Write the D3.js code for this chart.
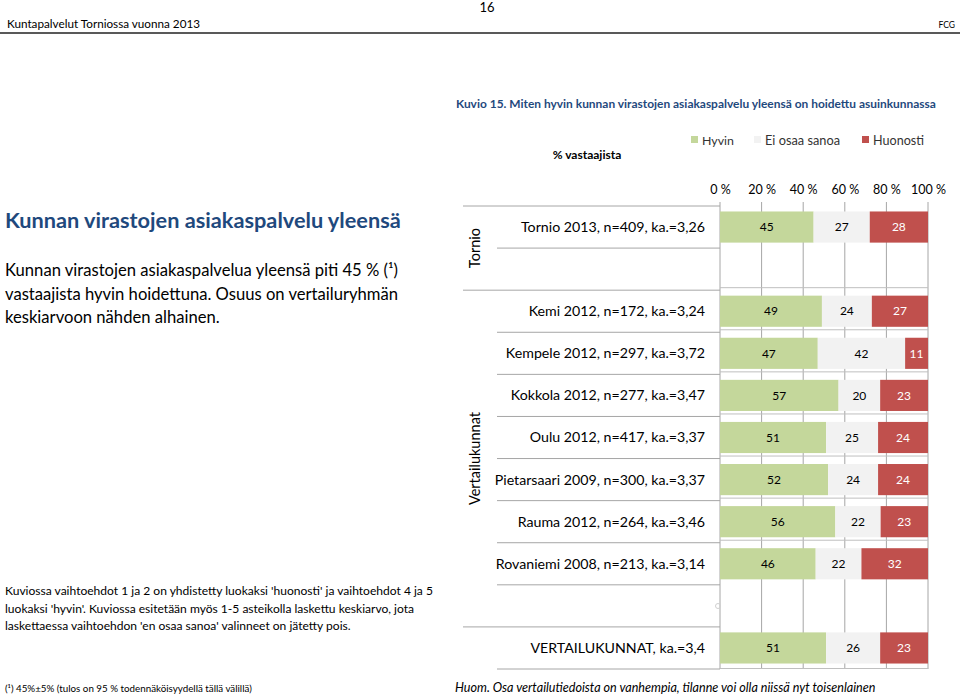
<!DOCTYPE html>
<html><head><meta charset="utf-8">
<script src="https://cdn.jsdelivr.net/npm/d3@7"></script>
<style>
html,body{margin:0;padding:0;background:#fff;}
svg{display:block;font-family:Lato,"Open Sans",sans-serif;}
</style></head>
<body>
<svg id="chart" width="960" height="696"></svg>
<script>
// ---- data ----
const categories = [
  "Tornio 2013, n=409, ka.=3,26",
  "",
  "Kemi 2012, n=172, ka.=3,24",
  "Kempele 2012, n=297, ka.=3,72",
  "Kokkola 2012, n=277, ka.=3,47",
  "Oulu 2012, n=417, ka.=3,37",
  "Pietarsaari 2009, n=300, ka.=3,37",
  "Rauma 2012, n=264, ka.=3,46",
  "Rovaniemi 2008, n=213, ka.=3,14",
  "",
  "VERTAILUKUNNAT, ka.=3,4"
];
const hyvin   = [45, null, 49, 47, 57, 51, 52, 56, 46, null, 51];
const eiOsaa  = [27, null, 24, 42, 20, 25, 24, 22, 22, null, 26];
const huonosti= [28, null, 27, 11, 23, 24, 24, 23, 32, null, 23];
const seriesNames = ["Hyvin", "Ei osaa sanoa", "Huonosti"];
const seriesColors = ["#c4d79b", "#f2f2f2", "#c0504d"];
const labelColors = ["#000", "#000", "#fff"];
const tickValues = [0, 0.2, 0.4, 0.6, 0.8, 1];
const groups = [
  {name: "Tornio", from: 0, to: 1},
  {name: "Vertailukunnat", from: 2, to: 9}
];

const svg = d3.select("#chart");
const rowIds = categories.map((c, i) => i);

// scale font-size so that the text's natural width matches a target width
function fit(sel, width) {
  const n = sel.node();
  const w = n.getComputedTextLength();
  const fs = parseFloat(sel.attr("font-size"));
  if (w > 0) sel.attr("font-size", (fs * width / w).toFixed(2));
  return sel;
}

// ---- scales ----
const x = d3.scaleLinear().domain([0, 1]).range([720, 928]);
const y = d3.scaleBand().domain(rowIds).range([206, 669]).paddingInner(0.26).paddingOuter(0.13);
const step = y.step();
const rowTop = i => y(i) - y.paddingInner() * step / 2;

// ---- header ----
fit(svg.append("text").attr("x", 7).attr("y", 28).attr("font-size", 13.2).attr("fill", "#000")
  .text("Kuntapalvelut Torniossa vuonna 2013"), 193);
svg.append("text").attr("x", 487).attr("y", 12).attr("text-anchor", "middle").attr("font-size", 13).text("16");
svg.append("text").attr("x", 955).attr("y", 28).attr("text-anchor", "end").attr("font-size", 8.5).text("FCG");
svg.append("line").attr("x1", 0).attr("x2", 960).attr("y1", 33).attr("y2", 33)
  .attr("stroke", "#222").attr("stroke-width", 1.4);

// ---- chart title ----
fit(svg.append("text").attr("x", 456).attr("y", 108).attr("font-size", 12.6).attr("font-weight", "bold")
  .attr("fill", "#1f497d")
  .text("Kuvio 15. Miten hyvin kunnan virastojen asiakaspalvelu yleensä on hoidettu asuinkunnassa"), 480);

svg.append("text").attr("x", 587).attr("y", 159).attr("text-anchor", "middle").attr("font-size", 12)
  .attr("font-weight", "bold").text("% vastaajista");

// ---- legend ----
const legendX = [691, 754, 862];
const legendW = [32, 75, 51];
seriesNames.forEach((n, i) => {
  const g = svg.append("g").attr("transform", `translate(${legendX[i]},140)`);
  g.append("rect").attr("x", 0).attr("y", -4).attr("width", 7).attr("height", 7).attr("fill", seriesColors[i]);
  fit(g.append("text").attr("x", 11).attr("y", 5).attr("font-size", 14).attr("fill", "#333").text(n), legendW[i]);
});

// ---- left text ----
fit(svg.append("text").attr("x", 5).attr("y", 228).attr("font-size", 20.5).attr("font-weight", "bold")
  .attr("fill", "#1f497d").text("Kunnan virastojen asiakaspalvelu yleensä"), 396);
const para = [
  ["Kunnan virastojen asiakaspalvelua yleensä piti 45 % (¹)", 391],
  ["vastaajista hyvin hoidettuna. Osuus on vertailuryhmän", 393],
  ["keskiarvoon nähden alhainen.", 215]
];
const paraW = [];
para.forEach((p, i) => {
  const t = svg.append("text").attr("x", 5).attr("y", 276 + i * 23.5).attr("font-size", 16.3).attr("fill", "#000")
    .text(p[0]);
  paraW.push([t, p[1]]);
});
// use a common font size for the paragraph
(function () {
  const ratios = paraW.map(([t, w]) => w / t.node().getComputedTextLength());
  const r = d3.mean(ratios);
  paraW.forEach(([t]) => t.attr("font-size", (16.3 * r).toFixed(2)));
})();

const note = [
  ["Kuviossa vaihtoehdot 1 ja 2 on yhdistetty luokaksi 'huonosti' ja vaihtoehdot 4 ja 5", 430],
  ["luokaksi 'hyvin'. Kuviossa esitetään myös 1-5 asteikolla laskettu keskiarvo, jota", 409],
  ["laskettaessa vaihtoehdon 'en osaa sanoa' valinneet on jätetty pois.", 345]
];
const noteT = note.map((p, i) => [svg.append("text").attr("x", 5).attr("y", 595 + i * 17.6)
  .attr("font-size", 12.3).attr("fill", "#000").text(p[0]), p[1]]);
(function () {
  const r = d3.mean(noteT.map(([t, w]) => w / t.node().getComputedTextLength()));
  noteT.forEach(([t]) => t.attr("font-size", (12.3 * r).toFixed(2)));
})();
fit(svg.append("text").attr("x", 5).attr("y", 692).attr("font-size", 10.5).attr("fill", "#000")
  .text("(¹) 45%±5% (tulos on 95 % todennäköisyydellä tällä välillä)"), 247);
fit(svg.append("text").attr("x", 455).attr("y", 692).attr("font-size", 12).attr("font-style", "italic")
  .attr("fill", "#000")
  .text("Huom. Osa vertailutiedoista on vanhempia, tilanne voi olla niissä nyt toisenlainen"), 421);

// ---- axis tick labels (top) ----
const axis = d3.axisTop(x).tickValues(tickValues).tickSize(0).tickPadding(0)
  .tickFormat(d => Math.round(d * 100) + " %");
const axG = svg.append("g").attr("transform", "translate(0,194)").call(axis);
axG.select(".domain").remove();
axG.selectAll("text").attr("font-family", "Lato, sans-serif").attr("font-size", 12.5).attr("fill", "#000");

// ---- gridlines ----
svg.append("g").selectAll("line").data(tickValues).join("line")
  .attr("x1", d => x(d)).attr("x2", d => x(d)).attr("y1", 202).attr("y2", 669)
  .attr("stroke", "#a6a6a6").attr("stroke-width", 1);

// horizontal separators in plot between data rows
const sepPlot = [];
for (let i = 2; i < 9; i++) sepPlot.push(i);
sepPlot.push(11);
svg.append("g").selectAll("line").data(sepPlot).join("line")
  .attr("x1", x(0)).attr("x2", x(1))
  .attr("y1", i => i === 11 ? 668.5 : rowTop(i) - 2.5).attr("y2", i => i === 11 ? 668.5 : rowTop(i) - 2.5)
  .attr("stroke", "#bfbfbf");

// ---- category axis separators (left) ----
const groupStarts = new Set(groups.map(g => g.from).concat([groups[groups.length - 1].to + 1]));
const bounds = d3.range(0, categories.length + 1);
svg.append("g").selectAll("line").data(bounds).join("line")
  .attr("x1", b => groupStarts.has(b) ? 463 : 497).attr("x2", x(0))
  .attr("y1", b => b === categories.length ? 669 : rowTop(b)).attr("y2", b => b === categories.length ? 669 : rowTop(b))
  .attr("stroke", "#a6a6a6");

// category labels
svg.append("g").selectAll("text").data(rowIds.filter(i => categories[i] !== "")).join("text")
  .attr("x", 705).attr("y", i => y(i) + y.bandwidth() / 2).attr("dy", "0.35em")
  .attr("text-anchor", "end").attr("font-size", 14.2).attr("fill", "#000")
  .text(i => categories[i]);

// group labels (rotated)
groups.forEach(g => {
  const cy = (rowTop(g.from) + rowTop(g.to + 1)) / 2;
  svg.append("text").attr("transform", `translate(480,${cy}) rotate(-90)`)
    .attr("text-anchor", "middle").attr("font-size", 14.5).attr("fill", "#000").text(g.name);
});

// ---- stacked bars ----
const rows = rowIds.filter(i => hyvin[i] !== null).map(i => ({
  id: i, "Hyvin": hyvin[i], "Ei osaa sanoa": eiOsaa[i], "Huonosti": huonosti[i]
}));
const stack = d3.stack().keys(seriesNames).offset(d3.stackOffsetExpand);
const stacked = stack(rows);
const barG = svg.append("g");
stacked.forEach((s, si) => {
  const g = barG.append("g");
  g.selectAll("rect").data(s).join("rect")
    .attr("x", d => x(d[0])).attr("width", d => x(d[1]) - x(d[0]))
    .attr("y", d => y(d.data.id)).attr("height", y.bandwidth())
    .attr("fill", seriesColors[si]);
  g.selectAll("text").data(s).join("text")
    .attr("x", d => (x(d[0]) + x(d[1])) / 2).attr("y", d => y(d.data.id) + y.bandwidth() / 2)
    .attr("dy", "0.35em").attr("text-anchor", "middle").attr("font-size", 12)
    .attr("fill", labelColors[si]).text(d => d.data[s.key]);
});

// small marker artifact
svg.append("circle").attr("cx", 718).attr("cy", 606).attr("r", 2.5).attr("fill", "none")
  .attr("stroke", "#d0d0d0").attr("stroke-width", 1);
</script>
</body></html>
